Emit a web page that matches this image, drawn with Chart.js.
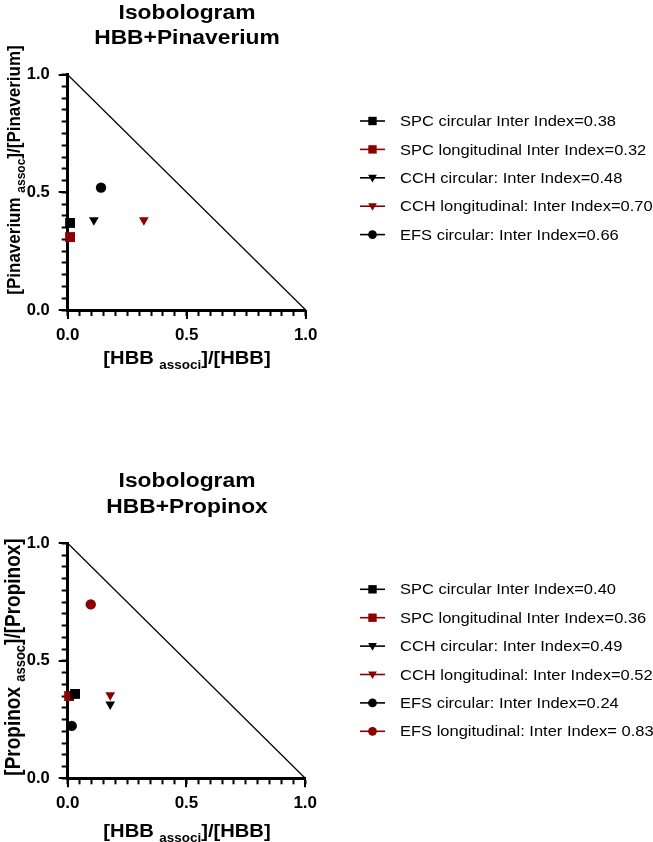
<!DOCTYPE html>
<html>
<head>
<meta charset="utf-8">
<script src="https://cdn.jsdelivr.net/npm/chart.js@4.4.1/dist/chart.umd.min.js"></script>
<style>
  html, body { margin: 0; padding: 0; background: #fff; }
  .panel { position: absolute; left: 0; width: 653px; height: 421px; }
</style>
</head>
<body>
<div class="panel" style="top:0"><canvas id="pinaverium" width="653" height="421"></canvas></div>
<div class="panel" style="top:421px"><canvas id="propinox" width="653" height="421"></canvas></div>
<script>
// --- data ---
const pinaveriumLabels = [
  "SPC circular Inter Index=0.38",
  "SPC longitudinal Inter Index=0.32",
  "CCH circular: Inter Index=0.48",
  "CCH longitudinal: Inter Index=0.70",
  "EFS circular: Inter Index=0.66"
]
const pinaveriumX = [0.01, 0.01, 0.11, 0.32, 0.14]
const pinaveriumY = [0.37, 0.31, 0.382, 0.382, 0.52]

const propinoxLabels = [
  "SPC circular Inter Index=0.40",
  "SPC longitudinal Inter Index=0.36",
  "CCH circular: Inter Index=0.49",
  "CCH longitudinal: Inter Index=0.52",
  "EFS circular: Inter Index=0.24",
  "EFS longitudinal: Inter Index= 0.83"
]
const propinoxX = [0.031, 0.006, 0.179, 0.179, 0.017, 0.097]
const propinoxY = [0.359, 0.35, 0.315, 0.354, 0.223, 0.74]

// line of additivity
const additivityX = [0, 1]
const additivityY = [1, 0]

// axis ticks: labelled every 0.5, small marks every 0.05
const majorStep = 0.5
const minorStep = 0.05

const DARK_RED = "#8b0000"
const FONT = "'Liberation Sans', Arial, sans-serif"
const NARROW = "'Liberation Sans Narrow', 'Arial Narrow', 'Liberation Sans', sans-serif"
const seriesColor = ["#000", DARK_RED, "#000", DARK_RED, "#000", DARK_RED]
const seriesShape = ["rect", "rect", "triangle", "triangle", "circle", "circle"]
const shapeRadius = { rect: 7, triangle: 5.6, circle: 5.2 }

const isMajor = (v) => Math.abs(v / majorStep - Math.round(v / majorStep)) < 1e-6

// draw text made of parts (normal + subscript), centred on the current origin
function drawParts(ctx, parts) {
  let width = 0
  parts.forEach(p => { ctx.font = p.font; width += ctx.measureText(p.text).width })
  let x = -width / 2
  parts.forEach(p => {
    ctx.font = p.font
    ctx.fillText(p.text, x, p.dy || 0)
    x += ctx.measureText(p.text).width
  })
}

function legendMarker(ctx, shape, x, y, r) {
  ctx.beginPath()
  if (shape === "rect") {
    ctx.rect(x - r, y - r, 2 * r, 2 * r)
  } else if (shape === "triangle") {
    ctx.moveTo(x, y + r)
    ctx.lineTo(x - r * 0.95, y - r * 0.65)
    ctx.lineTo(x + r * 0.95, y - r * 0.65)
    ctx.closePath()
  } else {
    ctx.arc(x, y, r, 0, Math.PI * 2)
  }
  ctx.fill()
}

const isoPlugin = {
  id: "iso",
  afterDraw(chart, args, o) {
    const { ctx } = chart
    const xs = chart.scales.x
    const ys = chart.scales.y

    ctx.save()
    ctx.fillStyle = "#000"
    ctx.strokeStyle = "#000"

    // the labelled ticks are a little longer than the small ones
    ctx.lineWidth = 2
    xs.ticks.forEach(t => {
      if (!isMajor(t.value)) return
      const px = Math.round(xs.getPixelForValue(t.value))
      const py = Math.round(ys.getPixelForValue(t.value))
      ctx.beginPath()
      ctx.moveTo(px, chart.chartArea.bottom)
      ctx.lineTo(px, chart.chartArea.bottom + 9)
      ctx.moveTo(chart.chartArea.left, py)
      ctx.lineTo(chart.chartArea.left - 9, py)
      ctx.stroke()
    })

    // title
    ctx.textAlign = "left"
    ctx.textBaseline = "alphabetic"
    o.title.forEach((line, i) => {
      ctx.save()
      ctx.translate(o.titleX, o.titleY[i])
      ctx.scale(1.14, 1)
      drawParts(ctx, [{ text: line, font: `bold 20px ${FONT}` }])
      ctx.restore()
    })

    // x axis title
    ctx.save()
    ctx.translate(o.xTitleX, o.xTitleY)
    ctx.scale(1.12, 1)
    drawParts(ctx, [
      { text: "[HBB ", font: `bold 18px ${FONT}` },
      { text: "associ", font: `bold 12px ${FONT}`, dy: 5 },
      { text: "]/[HBB]", font: `bold 18px ${FONT}` }
    ])
    ctx.restore()

    // y axis title (rotated)
    ctx.save()
    ctx.translate(o.yTitleX, o.yTitleY)
    ctx.scale(1.13, 1)
    ctx.rotate(-Math.PI / 2)
    drawParts(ctx, [
      { text: `[${o.drug} `, font: `bold ${o.yTitleSize}px ${FONT}` },
      { text: "assoc", font: `bold ${Math.round(o.yTitleSize * 0.68)}px ${FONT}`, dy: 5 },
      { text: `]/[${o.drug}]`, font: `bold ${o.yTitleSize}px ${FONT}` }
    ])
    ctx.restore()

    // legend
    ctx.textBaseline = "middle"
    chart.data.datasets.forEach((ds, i) => {
      if (!ds.inLegend) return
      const y = o.legendY + i * 28.4
      ctx.strokeStyle = ds.backgroundColor
      ctx.fillStyle = ds.backgroundColor
      ctx.lineWidth = 1.6
      ctx.beginPath()
      ctx.moveTo(360, y)
      ctx.lineTo(385, y)
      ctx.stroke()
      const r = ds.pointStyle === "rect" ? 4.2 : ds.pointStyle === "triangle" ? 4.6 : 4.4
      legendMarker(ctx, ds.pointStyle, 372.5, y, r)
      ctx.fillStyle = "#000"
      ctx.save()
      ctx.translate(400, y)
      ctx.scale(1.1, 1)
      ctx.font = `15px ${FONT}`
      ctx.fillText(ds.label, 0, 1)
      ctx.restore()
    })

    ctx.restore()
  }
}

function axis(padding, family, size, afterFit) {
  return {
    type: "linear",
    min: 0,
    max: 1,
    afterFit,
    // a tick every 0.05, labels only at 0, 0.5 and 1
    afterBuildTicks: (s) => {
      const n = Math.round((s.max - s.min) / minorStep)
      s.ticks = Array.from({ length: n + 1 }, (_, i) => ({ value: s.min + i * minorStep }))
    },
    border: { color: "#000", width: 3 },
    grid: { display: true, drawOnChartArea: false, drawTicks: true, tickLength: 6, tickWidth: 2, tickColor: "#000", color: "#000" },
    ticks: {
      autoSkip: false,
      maxRotation: 0,
      padding,
      color: "#000",
      font: { family, size, weight: "bold" },
      callback: (v) => isMajor(v) ? v.toFixed(1) : ""
    }
  }
}

function isobologram(id, labels, xs, ys, box, text) {
  const datasets = labels.map((label, i) => ({
    label,
    inLegend: true,
    data: [{ x: xs[i], y: ys[i] }],
    pointStyle: seriesShape[i],
    pointRotation: seriesShape[i] === "triangle" ? 180 : 0,
    pointRadius: shapeRadius[seriesShape[i]],
    backgroundColor: seriesColor[i],
    borderColor: seriesColor[i],
    pointBorderWidth: 0,
    showLine: false,
    clip: false,
    order: 1
  }))
  datasets.push({
    type: "line",
    label: "additivity",
    data: additivityX.map((x, i) => ({ x, y: additivityY[i] })),
    borderColor: "#000",
    borderWidth: 1.2,
    pointRadius: 0,
    clip: false,
    order: 10
  })

  return new Chart(document.getElementById(id), {
    type: "scatter",
    data: { datasets },
    options: {
      responsive: false,
      animation: false,
      events: [],
      layout: { padding: { left: 0, top: box.top, right: 653 - box.right, bottom: 0 } },
      scales: {
        x: axis(9, FONT, 17, (s) => { s.height = 421 - box.bottom }),
        y: axis(12, NARROW, 16.5, (s) => { s.width = box.left })
      },
      plugins: { legend: { display: false }, tooltip: { enabled: false }, iso: text }
    },
    plugins: [isoPlugin]
  })
}

isobologram("pinaverium", pinaveriumLabels, pinaveriumX, pinaveriumY,
  { left: 67.7, right: 305.7, top: 74.7, bottom: 310 },
  {
    title: ["Isobologram", "HBB+Pinaverium"], titleX: 187, titleY: [18.5, 43.5],
    xTitleX: 187, xTitleY: 364,
    yTitleX: 19.5, yTitleY: 170, yTitleSize: 17, drug: "Pinaverium",
    legendY: 121
  })

isobologram("propinox", propinoxLabels, propinoxX, propinoxY,
  { left: 67.7, right: 305.2, top: 122.3, bottom: 357.3 },
  {
    title: ["Isobologram", "HBB+Propinox"], titleX: 187, titleY: [66.3, 91.7],
    xTitleX: 187, xTitleY: 416.3,
    yTitleX: 19.5, yTitleY: 236, yTitleSize: 19, drug: "Propinox",
    legendY: 168.3
  })
</script>
</body>
</html>
